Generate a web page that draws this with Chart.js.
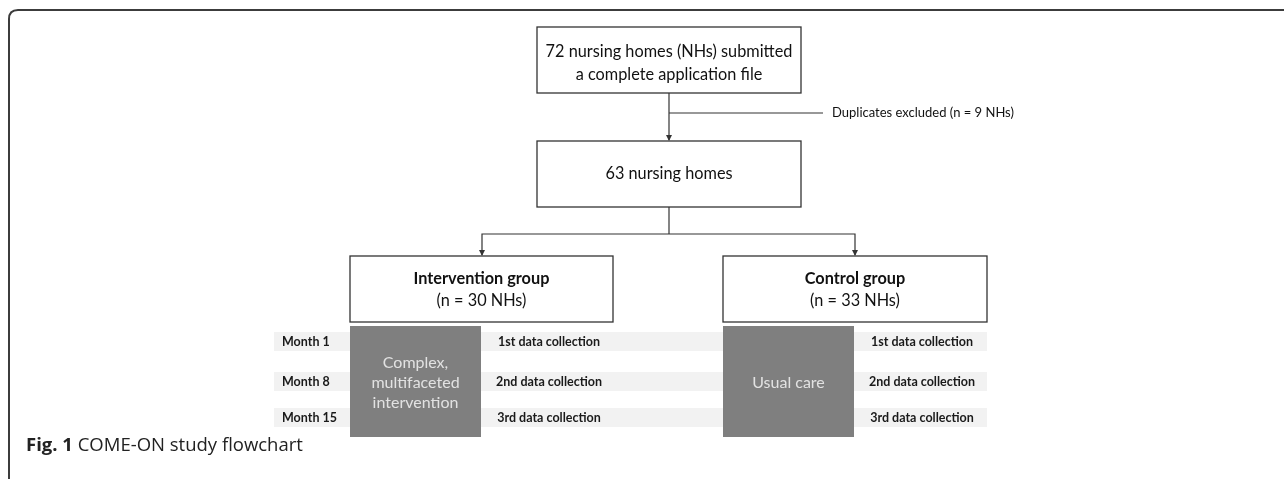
<!DOCTYPE html>
<html>
<head>
<meta charset="utf-8">
<script src="https://cdn.jsdelivr.net/npm/chart.js@4/dist/chart.umd.min.js"></script>
<style>
  html, body { margin: 0; padding: 0; background: #fff; }
  canvas { display: block; }
</style>
</head>
<body>
<canvas id="flow" width="1284" height="479"></canvas>
<script>
// Flowchart content
const topBoxLines = ["72 nursing homes (NHs) submitted", "a complete application file"];
const excludedLabel = "Duplicates excluded (n = 9 NHs)";
const mergedBoxLines = ["63 nursing homes"];
const groupTitles = ["Intervention group", "Control group"];
const groupCounts = ["(n = 30 NHs)", "(n = 33 NHs)"];
const treatmentLines = [["Complex,", "multifaceted", "intervention"], ["Usual care"]];
const months = ["Month 1", "Month 8", "Month 15"];
const collections = ["1st data collection", "2nd data collection", "3rd data collection"];
const captionBold = "Fig. 1";
const captionText = "COME-ON study flowchart";

// Layout in the chart's own coordinate space (x: 0..1284, y: 0..479 top-down)
const layout = {
  frame: { x: 9, y: 10, r: 9 },
  top: { x0: 537, x1: 801, y0: 27, y1: 93 },
  merged: { x0: 537, x1: 801, y0: 141, y1: 207 },
  spineX: 669,
  exclY: 113, exclX1: 823, exclTextX: 832,
  splitY: 234,
  groups: [{ x0: 350, x1: 613, cx: 482 }, { x0: 723, x1: 987, cx: 855 }],
  groupY: [256, 322],
  treat: [{ x0: 350, x1: 481 }, { x0: 723, x1: 854 }],
  treatY: [326, 437],
  bandX: [274, 987],
  bandY: [[332, 351], [372, 391], [408, 427]],
  collectX: [549, 922],
  monthX: 282,
  captionX: 26, captionY: 446
};

const FONT = "Lato, 'Open Sans', sans-serif";

const flowPlugin = {
  id: "flow",
  afterDraw(chart) {
    const ctx = chart.ctx;
    const sx = chart.scales.x, sy = chart.scales.y;
    const X = (v) => sx.getPixelForValue(v);
    const Y = (v) => sy.getPixelForValue(v);
    const L = layout;

    ctx.save();

    // outer frame (top + left, rounded corner)
    ctx.strokeStyle = "#3c3c3c";
    ctx.lineWidth = 2;
    ctx.beginPath();
    ctx.moveTo(X(L.frame.x), Y(479));
    ctx.lineTo(X(L.frame.x), Y(L.frame.y + L.frame.r));
    ctx.quadraticCurveTo(X(L.frame.x), Y(L.frame.y), X(L.frame.x + L.frame.r), Y(L.frame.y));
    ctx.lineTo(X(1284), Y(L.frame.y));
    ctx.stroke();

    // light bands
    ctx.fillStyle = "#f2f2f2";
    L.bandY.forEach(([a, b]) => {
      ctx.fillRect(X(L.bandX[0]), Y(a), X(L.bandX[1]) - X(L.bandX[0]), Y(b) - Y(a));
    });

    // grey treatment boxes
    ctx.fillStyle = "#7f7f7f";
    L.treat.forEach((t) => {
      ctx.fillRect(X(t.x0), Y(L.treatY[0]), X(t.x1) - X(t.x0), Y(L.treatY[1]) - Y(L.treatY[0]));
    });

    // white boxes
    const box = (x0, x1, y0, y1) => {
      ctx.fillStyle = "#fff";
      ctx.fillRect(X(x0), Y(y0), X(x1) - X(x0), Y(y1) - Y(y0));
      ctx.strokeStyle = "#333";
      ctx.lineWidth = 1.3;
      ctx.strokeRect(X(x0), Y(y0), X(x1) - X(x0), Y(y1) - Y(y0));
    };
    box(L.top.x0, L.top.x1, L.top.y0, L.top.y1);
    box(L.merged.x0, L.merged.x1, L.merged.y0, L.merged.y1);
    L.groups.forEach((g) => box(g.x0, g.x1, L.groupY[0], L.groupY[1]));

    // connectors
    ctx.strokeStyle = "#333";
    ctx.lineWidth = 1.2;
    const line = (pts) => {
      ctx.beginPath();
      pts.forEach(([a, b], i) => (i ? ctx.lineTo(X(a), Y(b)) : ctx.moveTo(X(a), Y(b))));
      ctx.stroke();
    };
    const arrow = (a, b) => {
      ctx.fillStyle = "#333";
      ctx.beginPath();
      ctx.moveTo(X(a), Y(b));
      ctx.lineTo(X(a) - 3, Y(b) - 6);
      ctx.lineTo(X(a) + 3, Y(b) - 6);
      ctx.closePath();
      ctx.fill();
    };
    line([[L.spineX, L.top.y1], [L.spineX, L.merged.y0 - 1]]);
    arrow(L.spineX, L.merged.y0);
    line([[L.spineX, L.exclY], [L.exclX1, L.exclY]]);
    line([[L.spineX, L.merged.y1], [L.spineX, L.splitY]]);
    line([[L.groups[0].cx, L.groupY[0] - 1], [L.groups[0].cx, L.splitY], [L.groups[1].cx, L.splitY], [L.groups[1].cx, L.groupY[0] - 1]]);
    L.groups.forEach((g) => arrow(g.cx, L.groupY[0]));

    // texts
    ctx.textBaseline = "middle";
    ctx.fillStyle = "#111";
    ctx.textAlign = "center";
    ctx.font = "16.3px " + FONT;
    const topCx = (L.top.x0 + L.top.x1) / 2;
    topBoxLines.forEach((t, i) => ctx.fillText(t, X(topCx), Y(52 + i * 23)));
    mergedBoxLines.forEach((t) => ctx.fillText(t, X(topCx), Y((L.merged.y0 + L.merged.y1) / 2)));

    ctx.textAlign = "left";
    ctx.font = "13px " + FONT;
    ctx.fillText(excludedLabel, X(L.exclTextX), Y(L.exclY));

    ctx.textAlign = "center";
    L.groups.forEach((g, i) => {
      const cx = (g.x0 + g.x1) / 2;
      ctx.fillStyle = "#111";
      ctx.font = "bold 16.3px " + FONT;
      ctx.fillText(groupTitles[i], X(cx), Y(279));
      ctx.font = "16.3px " + FONT;
      ctx.fillText(groupCounts[i], X(cx), Y(301));
    });

    ctx.fillStyle = "#e2e2e2";
    ctx.font = "16px " + FONT;
    L.treat.forEach((t, i) => {
      const cx = (t.x0 + t.x1) / 2;
      const n = treatmentLines[i].length;
      treatmentLines[i].forEach((s, k) => ctx.fillText(s, X(cx), Y(383 + (k - (n - 1) / 2) * 20)));
    });

    ctx.fillStyle = "#1a1a1a";
    L.bandY.forEach(([a, b], i) => {
      const cy = (a + b) / 2;
      ctx.font = "bold 12.5px " + FONT;
      ctx.textAlign = "left";
      ctx.fillText(months[i], X(L.monthX), Y(cy));
      ctx.textAlign = "center";
      ctx.font = "bold 12.5px " + FONT;
      L.collectX.forEach((cx) => ctx.fillText(collections[i], X(cx), Y(cy)));
    });

    // caption
    ctx.textAlign = "left";
    ctx.fillStyle = "#222";
    ctx.font = "bold 18.5px 'Open Sans', sans-serif";
    ctx.fillText(captionBold, X(L.captionX), Y(L.captionY));
    const w = ctx.measureText(captionBold + " ").width;
    ctx.font = "18.5px 'Open Sans', sans-serif";
    ctx.fillText(captionText, X(L.captionX) + w, Y(L.captionY));

    ctx.restore();
  }
};

new Chart(document.getElementById("flow"), {
  type: "scatter",
  data: { datasets: [{ data: [], pointRadius: 0 }] },
  options: {
    responsive: false,
    animation: false,
    devicePixelRatio: 1,
    layout: { padding: 0 },
    plugins: { legend: { display: false }, tooltip: { enabled: false } },
    scales: {
      x: { type: "linear", min: 0, max: 1284, display: false },
      y: { type: "linear", min: 0, max: 479, reverse: true, display: false }
    }
  },
  plugins: [flowPlugin]
});
</script>
</body>
</html>
